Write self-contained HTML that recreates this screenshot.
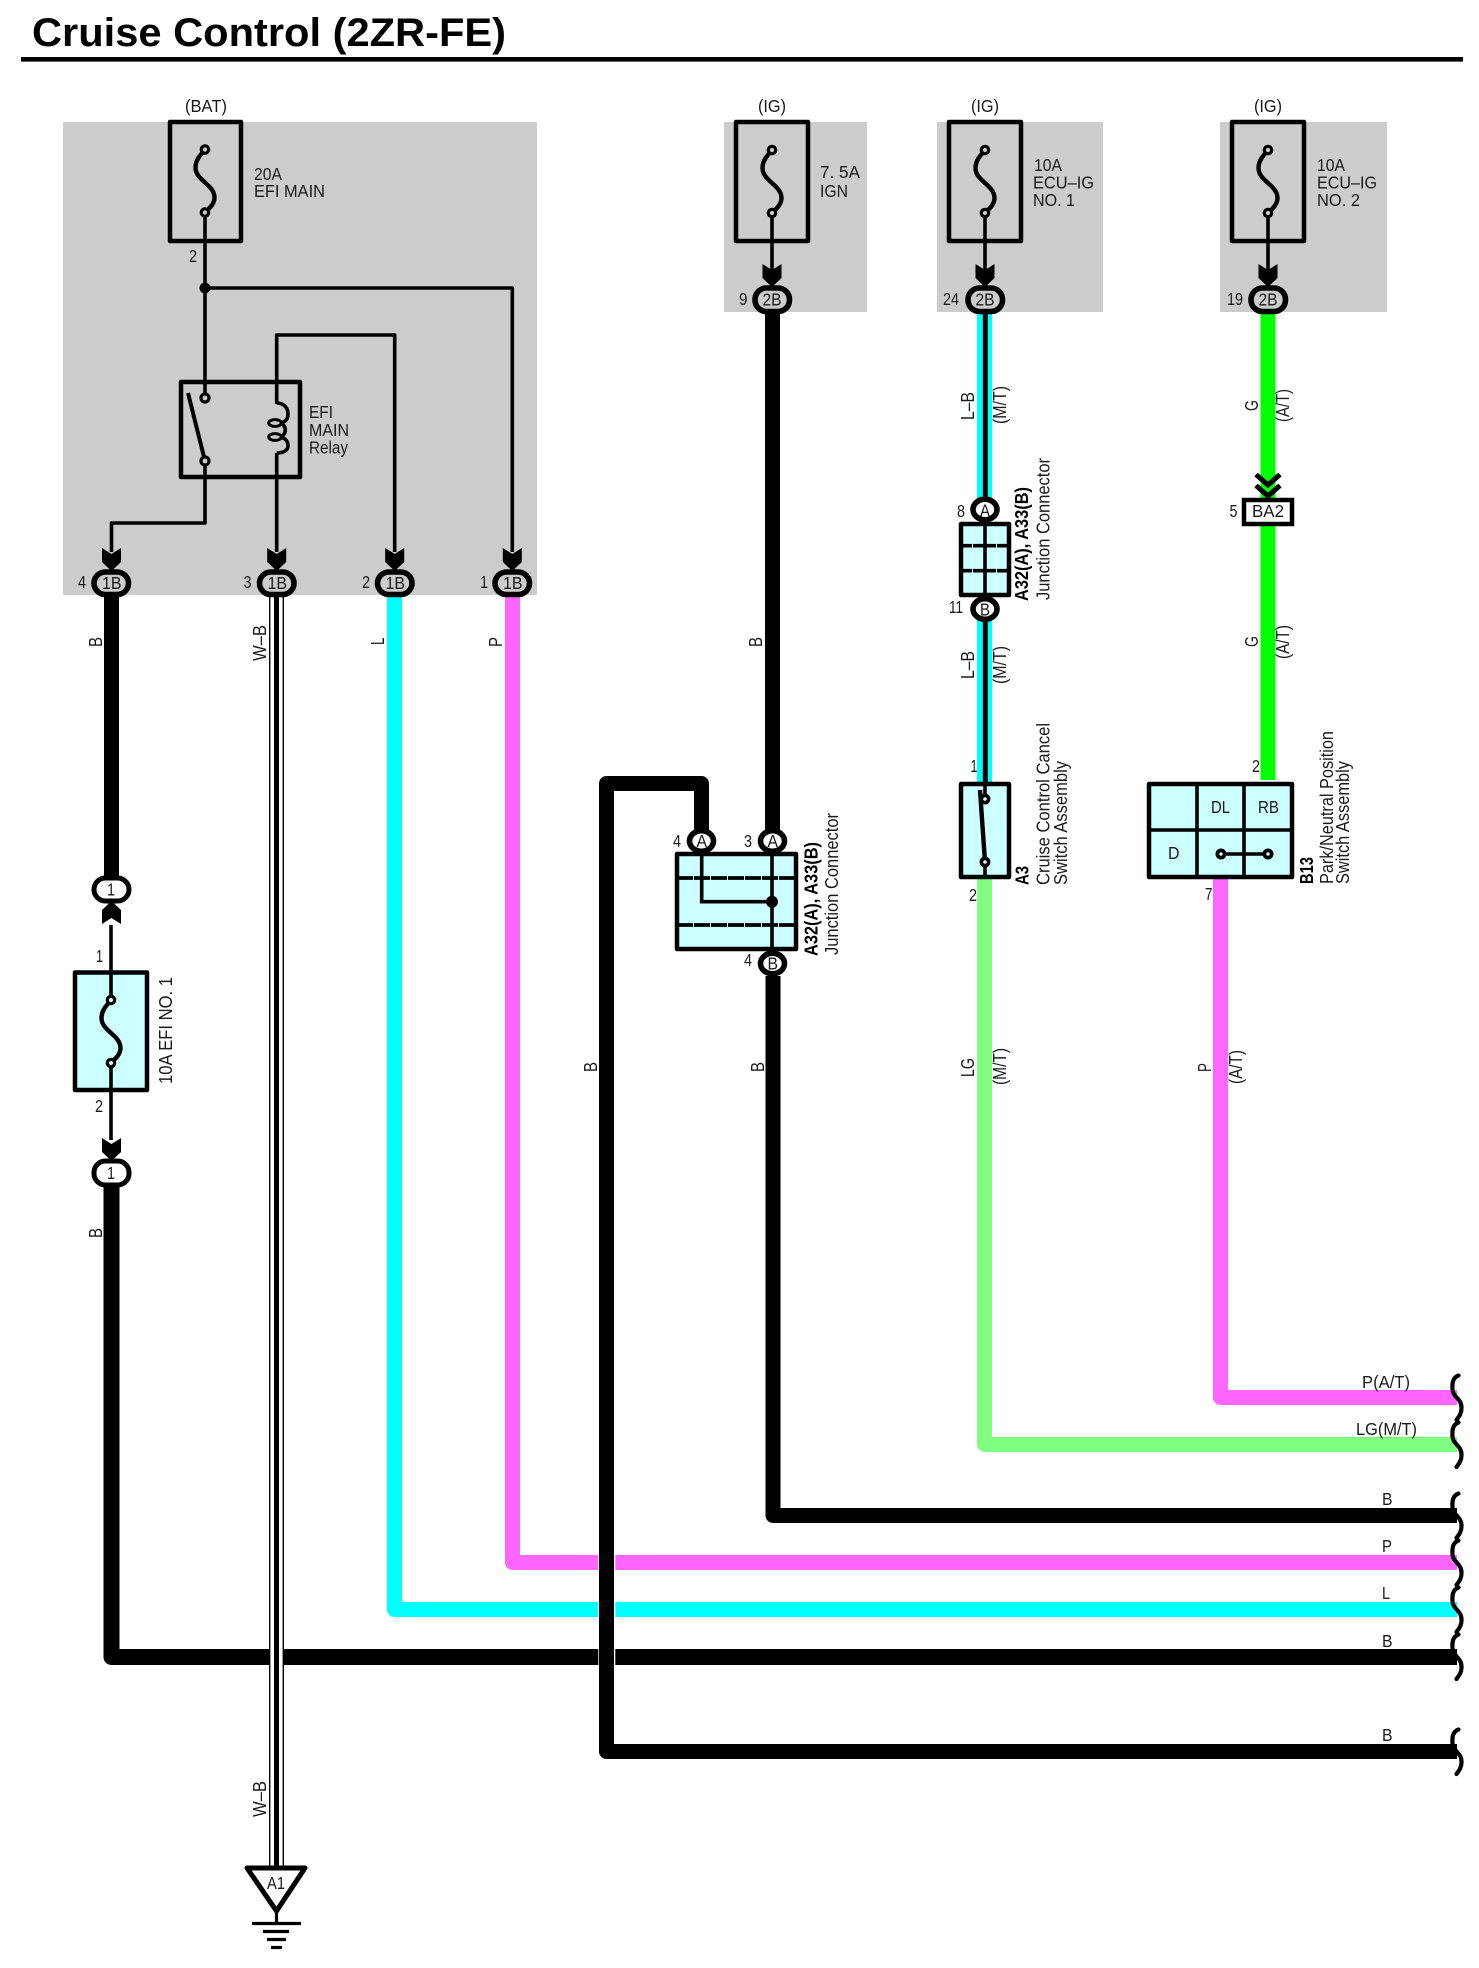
<!DOCTYPE html>
<html><head><meta charset="utf-8"><title>Cruise Control (2ZR-FE)</title>
<style>
html,body{margin:0;padding:0;background:#fff}
svg{display:block}
text{font-family:"Liberation Sans",Arial,sans-serif;font-size:17.5px;fill:#1a1a1a}
.r{font-size:18px}
.l{font-size:18.5px}
.b{font-size:18.5px;font-weight:bold;fill:#000}
.t{font-size:40px;font-weight:bold;fill:#000}
.w{fill:none;stroke:#000;stroke-width:3.6;stroke-linejoin:round}
.box{stroke:#000;stroke-width:4.5;stroke-linejoin:round}
.th{fill:none;stroke-width:15;stroke-linejoin:round;stroke-linecap:butt}
.sq{fill:none;stroke:#000;stroke-width:4.2;stroke-linecap:round}
.c{stroke:#000;stroke-width:5.6}
</style></head><body>
<svg xmlns="http://www.w3.org/2000/svg" width="1479" height="1968" viewBox="0 0 1479 1968">
<defs>
<polygon id="arr" points="-9.5,-21 0,-15 9.5,-21 9.5,-7 0,2 -9.5,-7" fill="#000"/>
<path id="fs" d="M0,0 C-4,5 -9.5,10 -9.5,18 C-9.5,31 9.5,35 9.5,48 C9.5,55 3,60 0,63" fill="none" stroke="#000" stroke-width="4.4"/>
<path id="sq" class="sq" d="M6.5,-22 C1,-20 0,-15 .5,-8 C1,0 10,1 9.5,11 C9.5,16 7,19 4.5,22.5"/>
</defs>
<rect width="1479" height="1968" fill="#fff"/>

<!-- title -->
<text class="t" x="32" y="46" textLength="474" lengthAdjust="spacingAndGlyphs">Cruise Control (2ZR-FE)</text>
<rect x="21" y="57" width="1442" height="4.6" fill="#000"/>

<!-- gray zones -->
<rect x="63" y="122" width="474" height="473" fill="#ccc"/>
<rect x="724" y="122" width="143" height="190" fill="#ccc"/>
<rect x="937" y="122" width="166" height="190" fill="#ccc"/>
<rect x="1220" y="122" width="167" height="190" fill="#ccc"/>

<!-- thick wires -->
<path class="th" stroke="#000" d="M773,976V1515.5H1457"/>
<path class="th" stroke="#ff66ff" d="M512.5,597V1562.5H1457"/>
<path class="th" stroke="#00ffff" d="M394.5,597V1609.5H1457"/>
<path class="th" style="stroke-width:16" stroke="#000" d="M111.5,1187V1657H1457"/>
<path class="th" stroke="#000" d="M111.5,597V880"/>
<path class="th" stroke="#ff66ff" d="M1220.5,879V1397.5H1457"/>
<path class="th" stroke="#80ff80" d="M984.5,879V1444.5H1457"/>
<path class="th" stroke="#00ff00" d="M1268,314V780"/>
<path class="th" stroke="#00ffff" d="M984.5,314V500M984.5,620V783"/>
<path d="M985.3,314V500M985.3,620V799" fill="none" stroke="#000" stroke-width="5"/>
<path class="th" stroke="#000" d="M772.5,314V830"/>
<!-- crossing wire with halo -->
<path d="M606.8,1540V1680" fill="none" stroke="#fff" stroke-width="17"/>
<path class="th" stroke="#000" d="M701.5,830V783.5H606.5V1751.5H1457"/>

<!-- W-B wire -->
<rect x="269" y="597" width="15" height="1272" fill="#fff"/>
<path d="M269.7,597V1869M283.3,597V1869" stroke="#000" stroke-width="1.4" fill="none"/>
<path d="M276.5,597V1869" stroke="#000" stroke-width="5" fill="none"/>

<!-- squiggles -->
<use href="#sq" x="1452" y="1397.5"/>
<use href="#sq" x="1452" y="1444.5"/>
<use href="#sq" x="1452" y="1515.5"/>
<use href="#sq" x="1452" y="1562.5"/>
<use href="#sq" x="1452" y="1609.5"/>
<use href="#sq" x="1452" y="1656.5"/>
<use href="#sq" x="1452" y="1751.5"/>

<!-- main fuse & relay -->
<rect class="box" x="170" y="122" width="71" height="119" fill="none"/>
<use href="#fs" x="205" y="149.5"/>
<circle cx="205" cy="149.5" r="3.7" fill="#ccc" stroke="#000" stroke-width="3.2"/>
<path class="w" d="M205,216V394"/>
<circle cx="205" cy="212.5" r="3.7" fill="#ccc" stroke="#000" stroke-width="3.2"/>
<circle cx="205" cy="288" r="5.5" fill="#000"/>
<path class="w" d="M205,288H512.3V552"/>
<path class="w" d="M394.7,552V335H276.7V404"/>
<rect class="box" x="181" y="382" width="119" height="95" fill="none"/>
<path d="M188,393L205,461" fill="none" stroke="#000" stroke-width="4"/>
<circle cx="205" cy="398" r="4" fill="#ccc" stroke="#000" stroke-width="3.2"/>
<circle cx="205" cy="461" r="4" fill="#ccc" stroke="#000" stroke-width="3.2"/>
<path class="w" d="M205,465V523H111.5V552"/>
<path d="M276.7,403C285,403 288,409 288,414C288,420 285,422 280,423M280,423C287,425 287,435 280,437M280,437C285,438 288,441 288,446C288,450 284,453 276.7,453" fill="none" stroke="#000" stroke-width="3.6"/>
<ellipse cx="275" cy="423" rx="6.3" ry="3.4" fill="none" stroke="#000" stroke-width="3"/>
<ellipse cx="275" cy="437" rx="6.3" ry="3.4" fill="none" stroke="#000" stroke-width="3"/>
<path class="w" d="M276.7,453V552"/>

<!-- arrows and 1B connectors -->
<use href="#arr" x="111.5" y="569"/><use href="#arr" x="276.7" y="569"/><use href="#arr" x="394.7" y="569"/><use href="#arr" x="512.3" y="569"/>
<rect class="c" x="94" y="572" width="34.5" height="22.5" rx="11.5" fill="#ccc"/>
<rect class="c" x="259.5" y="572" width="34.5" height="22.5" rx="11.5" fill="#ccc"/>
<rect class="c" x="377.5" y="572" width="34.5" height="22.5" rx="11.5" fill="#ccc"/>
<rect class="c" x="495" y="572" width="34.5" height="22.5" rx="11.5" fill="#ccc"/>

<!-- top-row fuses -->
<rect class="box" x="736" y="122" width="72" height="119" fill="none"/>
<rect class="box" x="949" y="122" width="72" height="119" fill="none"/>
<rect class="box" x="1232" y="122" width="72" height="119" fill="none"/>
<use href="#fs" x="772" y="150"/><use href="#fs" x="985" y="150"/><use href="#fs" x="1268" y="150"/>
<path class="w" d="M772,216V270M985,216V270M1268,216V270"/>
<circle cx="772" cy="150" r="3.7" fill="#ccc" stroke="#000" stroke-width="3.2"/>
<circle cx="772" cy="213" r="3.7" fill="#ccc" stroke="#000" stroke-width="3.2"/>
<circle cx="985" cy="150" r="3.7" fill="#ccc" stroke="#000" stroke-width="3.2"/>
<circle cx="985" cy="213" r="3.7" fill="#ccc" stroke="#000" stroke-width="3.2"/>
<circle cx="1268" cy="150" r="3.7" fill="#ccc" stroke="#000" stroke-width="3.2"/>
<circle cx="1268" cy="213" r="3.7" fill="#ccc" stroke="#000" stroke-width="3.2"/>
<use href="#arr" x="772" y="285"/><use href="#arr" x="985" y="285"/><use href="#arr" x="1268" y="285"/>
<rect class="c" x="755" y="288" width="34.5" height="23.5" rx="11.5" fill="#ccc"/>
<rect class="c" x="968" y="288" width="34.5" height="23.5" rx="11.5" fill="#ccc"/>
<rect class="c" x="1251" y="288" width="34.5" height="23.5" rx="11.5" fill="#ccc"/>

<!-- BA2 -->
<path d="M1256,474.5L1268,485L1280,474.5M1256,485.5L1268,496L1280,485.5" fill="none" stroke="#000" stroke-width="5"/>
<rect x="1244" y="500" width="48" height="24" fill="#fff" stroke="#000" stroke-width="4.5"/>

<!-- small junction -->
<rect class="box" x="961" y="524" width="48" height="71" fill="#ccffff"/>
<path d="M985,524V596" stroke="#000" stroke-width="3.6" fill="none"/>
<path d="M961,545.7H1009M961,570.7H1009" stroke="#000" stroke-width="3.6" stroke-dasharray="11 1" fill="none"/>
<ellipse class="c" cx="985" cy="509.5" rx="12" ry="10.3" fill="#fff"/>
<ellipse class="c" cx="985" cy="609" rx="12" ry="10.3" fill="#fff"/>

<!-- A3 switch -->
<rect class="box" x="961" y="784" width="48" height="93" fill="#ccffff"/>
<path class="w" d="M985,784V799M985,862V878"/>
<path d="M980,790L985,862" fill="none" stroke="#000" stroke-width="4.4"/>
<circle cx="985" cy="799" r="3.6" fill="#ccffff" stroke="#000" stroke-width="3.6"/>
<circle cx="985" cy="862" r="3.6" fill="#ccffff" stroke="#000" stroke-width="3.6"/>

<!-- B13 -->
<rect class="box" x="1149" y="784" width="143" height="93" fill="#ccffff"/>
<path d="M1197,784V877M1244,784V877M1149,830H1292" stroke="#000" stroke-width="3.6" fill="none"/>
<path d="M1221,854H1268" stroke="#000" stroke-width="3.4" fill="none"/>
<circle cx="1221" cy="854" r="3.6" fill="#ccffff" stroke="#000" stroke-width="3.8"/>
<circle cx="1268" cy="854" r="3.6" fill="#ccffff" stroke="#000" stroke-width="3.8"/>

<!-- big junction -->
<rect class="box" x="677" y="854" width="119" height="95" fill="#ccffff"/>
<path d="M677,878H796M677,925H796" stroke="#000" stroke-width="3.8" stroke-dasharray="16 1" fill="none"/>
<path d="M701.7,854V901.7H772M772,854V950" stroke="#000" stroke-width="3.6" fill="none"/>
<circle cx="772" cy="901.7" r="6" fill="#000"/>
<ellipse class="c" cx="701.5" cy="841" rx="12" ry="10.3" fill="#fff"/>
<ellipse class="c" cx="772.5" cy="841" rx="12" ry="10.3" fill="#fff"/>
<ellipse class="c" cx="772.5" cy="963.5" rx="12" ry="10.3" fill="#fff"/>

<!-- EFI NO.1 inline fuse -->
<path class="w" d="M111,925V1000M111,1063V1140"/>
<rect class="box" x="75" y="972.5" width="72" height="117.5" fill="#ccffff"/>
<path class="w" d="M111,972V1000M111,1063V1092"/>
<use href="#fs" x="111" y="1000"/>
<circle cx="111" cy="1000" r="3.7" fill="#ccffff" stroke="#000" stroke-width="3.2"/>
<circle cx="111" cy="1063" r="3.7" fill="#ccffff" stroke="#000" stroke-width="3.2"/>
<use href="#arr" x="111.5" y="903" transform="rotate(180 111.5 903)"/>
<use href="#arr" x="111.5" y="1159"/>
<rect x="94" y="878" width="35" height="23" rx="11.5" fill="#fff" stroke="#000" stroke-width="5"/>
<rect x="94" y="1161" width="35" height="24" rx="11.5" fill="#fff" stroke="#000" stroke-width="5"/>

<!-- ground -->
<polygon points="247,1868 305,1868 276.5,1911" fill="#fff" stroke="#000" stroke-width="5" stroke-linejoin="round"/>
<path d="M276.5,1911V1923" stroke="#000" stroke-width="3.2" fill="none"/>
<path d="M252,1923.5H301" stroke="#000" stroke-width="3.2" fill="none"/>
<path d="M263,1931.5H289" stroke="#000" stroke-width="3.2" fill="none"/>
<path d="M267,1939.5H286" stroke="#000" stroke-width="3.2" fill="none"/>
<path d="M271,1947.5H282" stroke="#000" stroke-width="3.2" fill="none"/>

<!-- labels: fuses & relay -->
<text x="185" y="112" textLength="42" lengthAdjust="spacingAndGlyphs">(BAT)</text>
<text x="254" y="180" textLength="28" lengthAdjust="spacingAndGlyphs">20A</text>
<text x="254" y="197" textLength="71" lengthAdjust="spacingAndGlyphs">EFI MAIN</text>
<text x="189" y="262" textLength="8" lengthAdjust="spacingAndGlyphs">2</text>
<text x="309" y="418" textLength="24" lengthAdjust="spacingAndGlyphs">EFI</text>
<text x="309" y="436" textLength="40" lengthAdjust="spacingAndGlyphs">MAIN</text>
<text x="309" y="453.5" textLength="39" lengthAdjust="spacingAndGlyphs">Relay</text>
<text x="78" y="588" textLength="8" lengthAdjust="spacingAndGlyphs">4</text><text x="243.5" y="588" textLength="8" lengthAdjust="spacingAndGlyphs">3</text><text x="362" y="588" textLength="8" lengthAdjust="spacingAndGlyphs">2</text><text x="480" y="588" textLength="8" lengthAdjust="spacingAndGlyphs">1</text>
<text x="102" y="589" textLength="19.5" lengthAdjust="spacingAndGlyphs">1B</text>
<text x="267.5" y="589" textLength="19.5" lengthAdjust="spacingAndGlyphs">1B</text>
<text x="385.5" y="589" textLength="19.5" lengthAdjust="spacingAndGlyphs">1B</text>
<text x="503" y="589" textLength="19.5" lengthAdjust="spacingAndGlyphs">1B</text>

<text x="758" y="112" textLength="28" lengthAdjust="spacingAndGlyphs">(IG)</text>
<text x="971" y="112" textLength="28" lengthAdjust="spacingAndGlyphs">(IG)</text>
<text x="1254" y="112" textLength="28" lengthAdjust="spacingAndGlyphs">(IG)</text>
<text x="820" y="178" textLength="40" lengthAdjust="spacingAndGlyphs">7. 5A</text>
<text x="820" y="197" textLength="28" lengthAdjust="spacingAndGlyphs">IGN</text>
<text x="1034" y="171" textLength="28" lengthAdjust="spacingAndGlyphs">10A</text>
<text x="1033" y="188.5" textLength="61" lengthAdjust="spacingAndGlyphs">ECU–IG</text>
<text x="1033" y="206" textLength="42" lengthAdjust="spacingAndGlyphs">NO. 1</text>
<text x="1317" y="171" textLength="28" lengthAdjust="spacingAndGlyphs">10A</text>
<text x="1317" y="188.5" textLength="60" lengthAdjust="spacingAndGlyphs">ECU–IG</text>
<text x="1317" y="206" textLength="43" lengthAdjust="spacingAndGlyphs">NO. 2</text>
<text x="739" y="305" textLength="8.5" lengthAdjust="spacingAndGlyphs">9</text>
<text x="943" y="305" textLength="16" lengthAdjust="spacingAndGlyphs">24</text>
<text x="1227" y="305" textLength="16" lengthAdjust="spacingAndGlyphs">19</text>
<text x="762.5" y="305.5" textLength="19" lengthAdjust="spacingAndGlyphs">2B</text>
<text x="975.5" y="305.5" textLength="19" lengthAdjust="spacingAndGlyphs">2B</text>
<text x="1258.5" y="305.5" textLength="19" lengthAdjust="spacingAndGlyphs">2B</text>

<text x="1252" y="517" textLength="32" lengthAdjust="spacingAndGlyphs">BA2</text>
<text x="1229.5" y="517" textLength="8" lengthAdjust="spacingAndGlyphs">5</text>
<text x="957" y="517" textLength="8" lengthAdjust="spacingAndGlyphs">8</text>
<text x="980" y="516.5" textLength="10" lengthAdjust="spacingAndGlyphs">A</text>
<text x="949" y="613" textLength="14" lengthAdjust="spacingAndGlyphs">11</text>
<text x="980" y="615.5" textLength="10" lengthAdjust="spacingAndGlyphs">B</text>
<text x="970.5" y="772" textLength="7" lengthAdjust="spacingAndGlyphs">1</text>
<text x="1252" y="772" textLength="8" lengthAdjust="spacingAndGlyphs">2</text>
<text x="969" y="901" textLength="8" lengthAdjust="spacingAndGlyphs">2</text>
<text x="1205" y="900" textLength="7.5" lengthAdjust="spacingAndGlyphs">7</text>
<text x="1211" y="813" textLength="19" lengthAdjust="spacingAndGlyphs">DL</text>
<text x="1258" y="813" textLength="21" lengthAdjust="spacingAndGlyphs">RB</text>
<text x="1168" y="859" textLength="11.5" lengthAdjust="spacingAndGlyphs">D</text>

<text x="673" y="847" textLength="8" lengthAdjust="spacingAndGlyphs">4</text><text x="744" y="847" textLength="8" lengthAdjust="spacingAndGlyphs">3</text><text x="744" y="966" textLength="8" lengthAdjust="spacingAndGlyphs">4</text>
<text x="696.5" y="847" textLength="10.5" lengthAdjust="spacingAndGlyphs">A</text><text x="767.5" y="847" textLength="10.5" lengthAdjust="spacingAndGlyphs">A</text><text x="767.5" y="969.5" textLength="10.5" lengthAdjust="spacingAndGlyphs">B</text>

<text x="107" y="895.5" textLength="8" lengthAdjust="spacingAndGlyphs">1</text>
<text x="107" y="1179" textLength="8" lengthAdjust="spacingAndGlyphs">1</text>
<text x="96" y="962" textLength="7" lengthAdjust="spacingAndGlyphs">1</text>
<text x="95" y="1112" textLength="8" lengthAdjust="spacingAndGlyphs">2</text>
<text x="267" y="1889" textLength="18" lengthAdjust="spacingAndGlyphs">A1</text>

<!-- right-side labels -->
<text x="1362" y="1388" textLength="48" lengthAdjust="spacingAndGlyphs">P(A/T)</text>
<text x="1356" y="1435" textLength="61" lengthAdjust="spacingAndGlyphs">LG(M/T)</text>
<text x="1382" y="1505" textLength="10.5" lengthAdjust="spacingAndGlyphs">B</text>
<text x="1382" y="1552" textLength="10" lengthAdjust="spacingAndGlyphs">P</text>
<text x="1382" y="1599" textLength="8" lengthAdjust="spacingAndGlyphs">L</text>
<text x="1382" y="1647" textLength="10.5" lengthAdjust="spacingAndGlyphs">B</text>
<text x="1382" y="1741" textLength="10.5" lengthAdjust="spacingAndGlyphs">B</text>

<!-- rotated wire labels -->
<text class="r" transform="translate(102,647) rotate(-90)" textLength="10" lengthAdjust="spacingAndGlyphs">B</text>
<text class="r" transform="translate(266,661) rotate(-90)" textLength="36" lengthAdjust="spacingAndGlyphs">W–B</text>
<text class="r" transform="translate(384,645) rotate(-90)" textLength="7.5" lengthAdjust="spacingAndGlyphs">L</text>
<text class="r" transform="translate(502,647) rotate(-90)" textLength="10" lengthAdjust="spacingAndGlyphs">P</text>
<text class="r" transform="translate(102,1238) rotate(-90)" textLength="10" lengthAdjust="spacingAndGlyphs">B</text>
<text class="r" transform="translate(762,647) rotate(-90)" textLength="10" lengthAdjust="spacingAndGlyphs">B</text>
<text class="r" transform="translate(597,1072) rotate(-90)" textLength="10" lengthAdjust="spacingAndGlyphs">B</text>
<text class="r" transform="translate(764,1072) rotate(-90)" textLength="10" lengthAdjust="spacingAndGlyphs">B</text>
<text class="r" transform="translate(266,1817) rotate(-90)" textLength="36" lengthAdjust="spacingAndGlyphs">W–B</text>
<text class="r" transform="translate(172,1084) rotate(-90)" textLength="107" lengthAdjust="spacingAndGlyphs">10A EFI NO. 1</text>

<text class="r" transform="translate(974,420) rotate(-90)" textLength="28" lengthAdjust="spacingAndGlyphs">L–B</text>
<text class="r" transform="translate(1006,424) rotate(-90)" textLength="38" lengthAdjust="spacingAndGlyphs">(M/T)</text>
<text class="r" transform="translate(1258,411) rotate(-90)" textLength="11" lengthAdjust="spacingAndGlyphs">G</text>
<text class="r" transform="translate(1289,422) rotate(-90)" textLength="33" lengthAdjust="spacingAndGlyphs">(A/T)</text>
<text class="r" transform="translate(974,679) rotate(-90)" textLength="28" lengthAdjust="spacingAndGlyphs">L–B</text>
<text class="r" transform="translate(1006,684) rotate(-90)" textLength="38" lengthAdjust="spacingAndGlyphs">(M/T)</text>
<text class="r" transform="translate(1258,647) rotate(-90)" textLength="11" lengthAdjust="spacingAndGlyphs">G</text>
<text class="r" transform="translate(1289,659) rotate(-90)" textLength="34" lengthAdjust="spacingAndGlyphs">(A/T)</text>
<text class="r" transform="translate(974,1077) rotate(-90)" textLength="19" lengthAdjust="spacingAndGlyphs">LG</text>
<text class="r" transform="translate(1006,1085) rotate(-90)" textLength="37" lengthAdjust="spacingAndGlyphs">(M/T)</text>
<text class="r" transform="translate(1211,1072) rotate(-90)" textLength="9" lengthAdjust="spacingAndGlyphs">P</text>
<text class="r" transform="translate(1242,1084) rotate(-90)" textLength="34" lengthAdjust="spacingAndGlyphs">(A/T)</text>

<!-- rotated component labels -->
<text class="b" transform="translate(817.5,956) rotate(-90)" textLength="114" lengthAdjust="spacingAndGlyphs">A32(A), A33(B)</text>
<text class="l" transform="translate(838,955) rotate(-90)" textLength="142" lengthAdjust="spacingAndGlyphs">Junction Connector</text>
<text class="b" transform="translate(1028,601) rotate(-90)" textLength="114" lengthAdjust="spacingAndGlyphs">A32(A), A33(B)</text>
<text class="l" transform="translate(1049.5,600) rotate(-90)" textLength="142" lengthAdjust="spacingAndGlyphs">Junction Connector</text>
<text class="b" transform="translate(1028.5,885) rotate(-90)" textLength="19" lengthAdjust="spacingAndGlyphs">A3</text>
<text class="l" transform="translate(1049.5,885) rotate(-90)" textLength="162" lengthAdjust="spacingAndGlyphs">Cruise Control Cancel</text>
<text class="l" transform="translate(1067,885) rotate(-90)" textLength="124" lengthAdjust="spacingAndGlyphs">Switch Assembly</text>
<text class="b" transform="translate(1313,884) rotate(-90)" textLength="27" lengthAdjust="spacingAndGlyphs">B13</text>
<text class="l" transform="translate(1333,884) rotate(-90)" textLength="153" lengthAdjust="spacingAndGlyphs">Park/Neutral Position</text>
<text class="l" transform="translate(1349,884) rotate(-90)" textLength="123" lengthAdjust="spacingAndGlyphs">Switch Assembly</text>
</svg>
</body></html>
